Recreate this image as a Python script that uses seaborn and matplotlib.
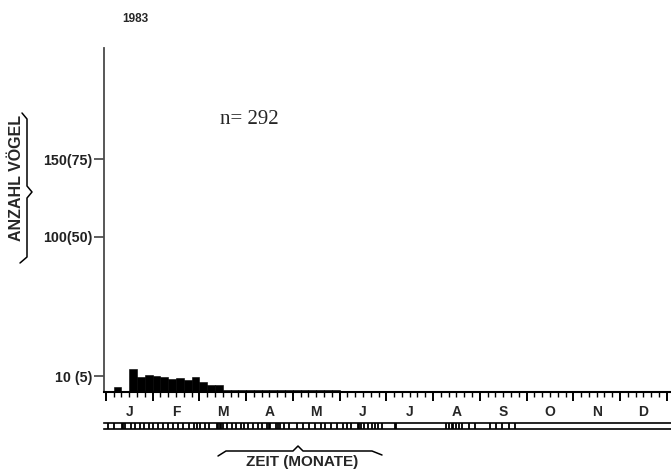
import numpy as np
import pandas as pd
import matplotlib
matplotlib.use("Agg")
import matplotlib.pyplot as plt
from matplotlib.lines import Line2D
import seaborn as sns

# ---- data -------------------------------------------------------------
year_label = "1983"
n_label = "n= 292"
month_letters = ["J", "F", "M", "A", "M", "J", "J", "A", "S", "O", "N", "D"]
month_lengths = [31, 28, 31, 30, 31, 30, 31, 31, 30, 31, 30, 31]

# pentad index (6 pentads per month, 0 = 1st-5th January) and birds counted
pentad_index = [1, 3, 4, 5, 6, 7, 8, 9, 10, 11, 12, 13, 14,
                15, 16, 17, 18, 19, 20, 21, 22, 23, 24, 25, 26, 27, 28, 29]
birds = [3.4, 14.6, 9.7, 10.8, 10.3, 9.5, 8.6, 9.0, 7.8, 9.6, 6.5, 4.3, 4.3,
         1, 1, 1, 1, 1, 1, 1, 1, 1, 1, 1, 1, 1, 1, 1]

# y-axis ticks and their labels
y_ticks = [10, 100, 150]
y_tick_labels = ["10 (5)", "100(50)", "150(75)"]

# observation days (day of year)
obs_days = [2, 6, 11, 12, 13, 17, 20, 23, 26, 29,
            32, 35, 38, 41, 44, 47, 50, 53, 56, 58,
            60, 63, 66, 71, 72, 73, 74, 75, 78, 81, 84, 87, 89,
            92, 95, 98, 101, 104, 105, 106, 110, 111, 112, 115, 118,
            123, 127, 131, 135, 139, 142, 146, 150,
            154, 156, 159, 163, 164, 165, 167, 170, 172, 174, 176, 179,
            187, 188,
            221, 223, 225, 226, 228, 230, 232, 236, 240,
            250, 254, 258, 262, 266]

# ---- helpers ----------------------------------------------------------
W, H = 671, 472


def day_to_month_units(days):
    """Convert day-of-year to a position where every month has width 1."""
    starts = np.concatenate([[0], np.cumsum(month_lengths)])
    days = np.asarray(days, dtype=float)
    m = np.searchsorted(starts, days, side="left") - 1
    m = np.clip(m, 0, 11)
    return m + (days - starts[m] - 0.5) / np.asarray(month_lengths)[m]


def fx(px):
    return px / W


def fy(py):
    return 1 - py / H


# ---- figure -----------------------------------------------------------
sns.set_theme(style="white")
plt.rcParams["font.family"] = ["Liberation Sans", "DejaVu Sans"]

fig = plt.figure(figsize=(W / 100, H / 100), dpi=100)
fig.patch.set_facecolor("white")

x_lo, x_hi = -0.04, 12.09
ax = fig.add_axes([fx(104), fy(392), fx(671) - fx(104), fy(48) - fy(392)])

df = pd.DataFrame({
    "pos": (np.asarray(pentad_index) + 0.5) / 6.0,
    "birds": birds,
})
sns.histplot(data=df, x="pos", weights="birds", binwidth=1 / 6, binrange=(0, 12),
             stat="count", color="black", edgecolor="black", linewidth=0.4,
             alpha=1.0, ax=ax)

ax.set_xlim(x_lo, x_hi)
ax.set_ylim(0, 221.5)
ax.set_xlabel("")
ax.set_ylabel("")

for side in ("top", "right"):
    ax.spines[side].set_visible(False)
ax.spines["left"].set_color("#4a4a4a")
ax.spines["left"].set_linewidth(1.3)
ax.spines["bottom"].set_color("black")
ax.spines["bottom"].set_linewidth(1.5)

ax.set_yticks(y_ticks)
ax.set_yticklabels(y_tick_labels, fontsize=10.3, fontweight="bold",
                   color="#222222")
ax.tick_params(axis="y", direction="out", length=7.5, width=1.1,
               color="#333333", pad=0.8, left=True)

ax.set_xticks(np.arange(0, 13))
ax.set_xticklabels([])
ax.set_xticks(np.arange(0, 73) / 6.0, minor=True)
ax.tick_params(axis="x", which="major", direction="out", length=6.5,
               width=1.4, color="black", bottom=True)
ax.tick_params(axis="x", which="minor", direction="out", length=3.8,
               width=1.0, color="black", bottom=True)

sec = ax.secondary_xaxis("bottom")
sec.set_xticks(np.arange(12) + 0.5)
sec.set_xticklabels(month_letters, fontsize=10, fontweight="bold")
sec.tick_params(length=0, pad=9.2)
sec.spines["bottom"].set_visible(False)

# observation strip below the months
ax2 = fig.add_axes([fx(104), fy(429), fx(671) - fx(104), fy(423) - fy(429)])
ax2.set_xlim(x_lo, x_hi)
ax2.set_ylim(0, 1)
ax2.vlines(day_to_month_units(obs_days), 0, 1, color="black", linewidth=1.3)
ax2.set_xticks([])
ax2.set_yticks([])
for side in ("left", "right"):
    ax2.spines[side].set_visible(False)
for side in ("top", "bottom"):
    ax2.spines[side].set_color("black")
    ax2.spines[side].set_linewidth(1.2)

# ---- texts --------------------------------------------------------------
fig.text(fx(135), fy(19), year_label, ha="center", va="center",
         fontsize=8.5, fontweight="bold")
fig.text(fx(249), fy(120), n_label, ha="center", va="center",
         fontsize=15, family=["Liberation Serif", "DejaVu Serif"])
fig.text(fx(17), fy(178), "ANZAHL VÖGEL", ha="center", va="center",
         rotation=90, fontsize=11.5, fontweight="bold")
fig.text(fx(302), fy(462), "ZEIT (MONATE)", ha="center", va="center",
         fontsize=11, fontweight="bold")

# curly braces next to the axis titles
brace_y = [(22, 113), (27, 119), (27, 186), (32, 192), (27, 198),
           (27, 257), (20, 263)]
brace_x = [(218, 456), (226, 451), (293, 451), (298, 446), (303, 451),
           (372, 451), (382, 455)]
for pts in (brace_y, brace_x):
    xs = [fx(p[0]) for p in pts]
    ys = [fy(p[1]) for p in pts]
    fig.add_artist(Line2D(xs, ys, transform=fig.transFigure,
                          color="black", linewidth=1.1))

fig.savefig("out.png", dpi=100, facecolor="white")
